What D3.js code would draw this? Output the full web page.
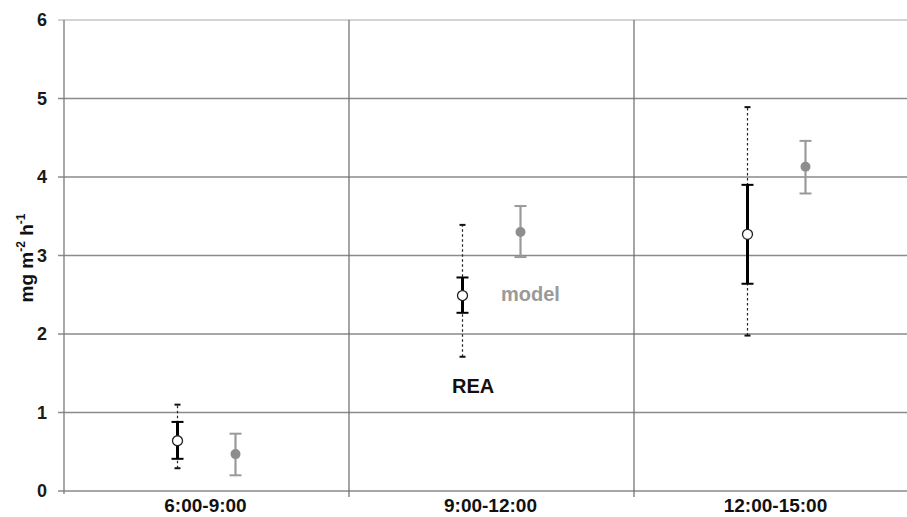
<!DOCTYPE html>
<html>
<head>
<meta charset="utf-8">
<script src="https://cdn.jsdelivr.net/npm/d3@7"></script>
<style>
  body { margin: 0; background: #fff; }
  svg text { font-family: "Liberation Sans", Arial, sans-serif; font-weight: bold; }
</style>
</head>
<body>
<div id="chart"></div>
<script>
// data
const periods = ['6:00-9:00', '9:00-12:00', '12:00-15:00'];
const yTicks = [0, 1, 2, 3, 4, 5, 6];

// REA: mean, inner range (solid), outer range (dotted)
const reaMean = [0.64, 2.49, 3.27];
const reaInnerLow = [0.41, 2.27, 2.64];
const reaInnerHigh = [0.88, 2.72, 3.90];
const reaOuterLow = [0.29, 1.71, 1.98];
const reaOuterHigh = [1.10, 3.39, 4.89];

// model: mean and range
const modelMean = [0.47, 3.30, 4.13];
const modelLow = [0.20, 2.98, 3.79];
const modelHigh = [0.73, 3.63, 4.46];

const W = 907, H = 517;
const margin = { top: 20, right: -12, bottom: 26, left: 64 };

const svg = d3.select('#chart').append('svg')
  .attr('width', W)
  .attr('height', H);

const x = d3.scaleBand().domain(periods).range([margin.left, W - margin.right]).padding(0);
const series = d3.scalePoint().domain(['REA', 'model']).range([-29, 29]);
const y = d3.scaleLinear().domain([0, 6]).range([H - margin.bottom, margin.top]);

// horizontal grid
svg.append('g')
  .selectAll('line')
  .data(yTicks)
  .join('line')
  .attr('x1', margin.left - 6)
  .attr('x2', W)
  .attr('y1', d => y(d))
  .attr('y2', d => y(d))
  .attr('stroke', d => d === 6 ? '#c4c4c4' : '#8a8a8a')
  .attr('stroke-width', 1.3);

// vertical grid at category boundaries
svg.append('g')
  .selectAll('line')
  .data(periods.slice(1))
  .join('line')
  .attr('x1', d => x(d))
  .attr('x2', d => x(d))
  .attr('y1', y(6))
  .attr('y2', y(0) + 6)
  .attr('stroke', '#6a6a6a')
  .attr('stroke-width', 1.2);

// y axis line
svg.append('line')
  .attr('x1', margin.left).attr('x2', margin.left)
  .attr('y1', y(6)).attr('y2', y(0) + 3)
  .attr('stroke', '#7a7a7a')
  .attr('stroke-width', 1.3);

// y tick labels
svg.append('g')
  .selectAll('text')
  .data(yTicks)
  .join('text')
  .attr('x', 47)
  .attr('y', d => y(d))
  .attr('dy', '0.36em')
  .attr('text-anchor', 'end')
  .attr('font-size', 18)
  .attr('fill', '#1a1a1a')
  .text(d => d);

// y axis title
const yt = svg.append('text')
  .attr('transform', 'translate(33,258) rotate(-90)')
  .attr('text-anchor', 'middle')
  .attr('font-size', 19)
  .attr('fill', '#111');
yt.append('tspan').text('mg m');
yt.append('tspan').attr('font-size', 12).attr('dy', -8).text('-2');
yt.append('tspan').attr('dy', 8).text(' h');
yt.append('tspan').attr('font-size', 12).attr('dy', -8).text('-1');

// x labels
svg.append('g')
  .selectAll('text')
  .data(periods)
  .join('text')
  .attr('x', d => x(d) + x.bandwidth() / 2 - 1)
  .attr('y', 512)
  .attr('text-anchor', 'middle')
  .attr('font-size', 19)
  .attr('fill', '#111')
  .text(d => d);

const rea = periods.map((p, i) => ({
  cx: x(p) + x.bandwidth() / 2 + series('REA'),
  m: reaMean[i], il: reaInnerLow[i], ih: reaInnerHigh[i], ol: reaOuterLow[i], oh: reaOuterHigh[i]
}));
const model = periods.map((p, i) => ({
  cx: x(p) + x.bandwidth() / 2 + series('model'),
  m: modelMean[i], lo: modelLow[i], hi: modelHigh[i]
}));

// model error bars (grey)
const mg = svg.append('g').selectAll('g').data(model).join('g');
mg.append('line')
  .attr('x1', d => d.cx).attr('x2', d => d.cx)
  .attr('y1', d => y(d.lo)).attr('y2', d => y(d.hi))
  .attr('stroke', '#9a9a9a').attr('stroke-width', 2.2);
mg.selectAll('.cap')
  .data(d => [d.lo, d.hi].map(v => ({ cx: d.cx, v })))
  .join('line')
  .attr('class', 'cap')
  .attr('x1', d => d.cx - 6).attr('x2', d => d.cx + 6)
  .attr('y1', d => y(d.v)).attr('y2', d => y(d.v))
  .attr('stroke', '#9a9a9a').attr('stroke-width', 2);
mg.append('circle')
  .attr('cx', d => d.cx).attr('cy', d => y(d.m))
  .attr('r', 5)
  .attr('fill', '#8e8e8e');

// REA outer range (dotted)
const rg = svg.append('g').selectAll('g').data(rea).join('g');
rg.append('line')
  .attr('x1', d => d.cx).attr('x2', d => d.cx)
  .attr('y1', d => y(d.ol)).attr('y2', d => y(d.oh))
  .attr('stroke', '#222').attr('stroke-width', 1.2)
  .attr('stroke-dasharray', '2.5,2.5');
rg.selectAll('.ocap')
  .data(d => [d.ol, d.oh].map(v => ({ cx: d.cx, v })))
  .join('line')
  .attr('class', 'ocap')
  .attr('x1', d => d.cx - 3).attr('x2', d => d.cx + 3)
  .attr('y1', d => y(d.v)).attr('y2', d => y(d.v))
  .attr('stroke', '#111').attr('stroke-width', 2);
// REA inner range (solid)
rg.append('line')
  .attr('x1', d => d.cx).attr('x2', d => d.cx)
  .attr('y1', d => y(d.il)).attr('y2', d => y(d.ih))
  .attr('stroke', '#000').attr('stroke-width', 3);
rg.selectAll('.icap')
  .data(d => [d.il, d.ih].map(v => ({ cx: d.cx, v })))
  .join('line')
  .attr('class', 'icap')
  .attr('x1', d => d.cx - 6).attr('x2', d => d.cx + 6)
  .attr('y1', d => y(d.v)).attr('y2', d => y(d.v))
  .attr('stroke', '#000').attr('stroke-width', 2);
rg.append('circle')
  .attr('cx', d => d.cx).attr('cy', d => y(d.m))
  .attr('r', 5)
  .attr('fill', '#fff')
  .attr('stroke', '#222')
  .attr('stroke-width', 1.3);

// series labels
svg.append('text')
  .attr('x', 501).attr('y', 301)
  .attr('font-size', 20)
  .attr('fill', '#9a9a9a')
  .text('model');
svg.append('text')
  .attr('x', 452).attr('y', 393)
  .attr('font-size', 20)
  .attr('fill', '#111')
  .text('REA');
</script>
</body>
</html>
